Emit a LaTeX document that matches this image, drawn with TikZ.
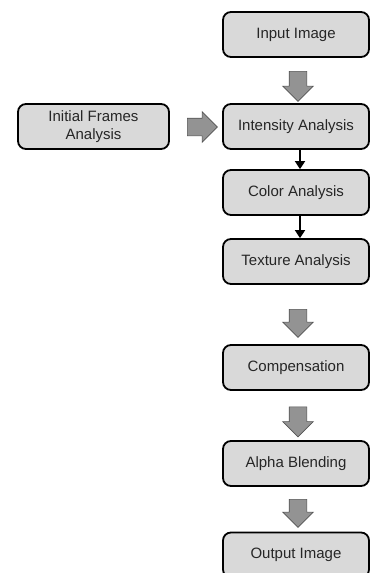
\documentclass[tikz,border=0pt]{standalone}
\usepackage{fontspec}
\setmainfont{Liberation Sans}
\usetikzlibrary{shapes.arrows,arrows.meta,calc}

\begin{document}
\begin{tikzpicture}[x=1pt,y=-1pt]
\newlength{\boxw}
\setlength{\boxw}{146pt}
\newlength{\boxh}
\setlength{\boxh}{45pt}

\tikzset{
  step_box/.style = {align=center, inner sep=0pt, text centered,
    font=\fontsize{15}{18}\selectfont, text=black!85,
    rounded corners=8pt, draw=black, line width=1.8pt, fill=gray!30,
    minimum width=\boxw, minimum height=\boxh},
  big_arr/.style = {single arrow, draw=gray!65!black, line width=0.6pt,
    fill=gray!85, inner sep=8.5pt, minimum width=30pt, minimum height=30pt,
    single arrow head extend=6.5pt},
  thin_arr/.style = {line width=1.8pt, -{Triangle[length=8pt,width=10pt]}}
}
\useasboundingbox (0,0) rectangle (371,573);

% right column
\node [step_box] (inp) at (296,34.5) {Input Image};
\node [step_box] (ints) at (296,126.5) {Intensity Analysis};
\node [step_box] (colr) at (296,192.5) {Color Analysis};
\node [step_box] (text) at (296,261.5) {Texture Analysis};
\node [step_box] (comp) at (296,367.5) {Compensation};
\node [step_box] (alph) at (296,463.5) {Alpha Blending};
\node [step_box] (outp) at (296,555) {Output Image};

% side input
\node [step_box, minimum width=151pt] (init) at (93.5,126.5)
  {Initial Frames\\Analysis};

% block arrows
\node [big_arr, rotate=-90] (a1) at (298,82) {};
\node [big_arr] (a2) at (198,127) {};
\node [big_arr, rotate=-90, minimum height=28pt] (a3) at (298,319) {};
\node [big_arr, rotate=-90] (a4) at (298,417.5) {};
\node [big_arr, rotate=-90, minimum height=28pt] (a5) at (298,509) {};

% thin arrows
\draw [thin_arr] ([xshift=4pt]ints.south) -- ([xshift=4pt]colr.north);
\draw [thin_arr] ([xshift=4pt]colr.south) -- ([xshift=4pt]text.north);

\end{tikzpicture}
\end{document}
